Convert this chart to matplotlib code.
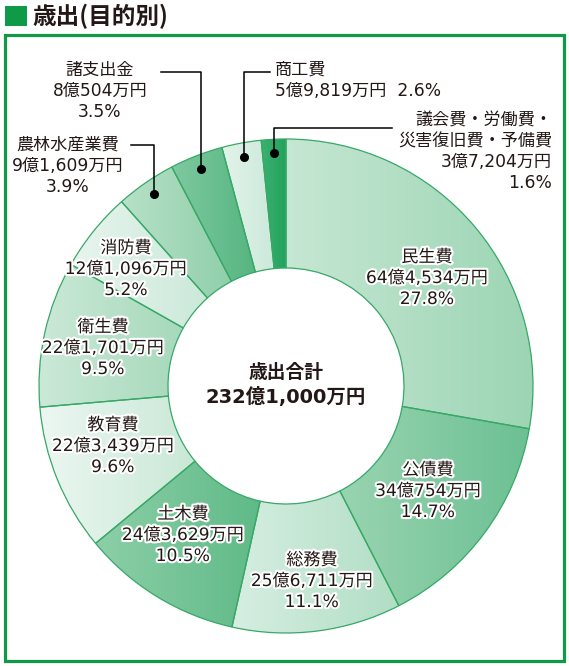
import numpy as np
import matplotlib
matplotlib.use('Agg')
import matplotlib.pyplot as plt
import matplotlib.patheffects as pe
from matplotlib.colors import LinearSegmentedColormap
from matplotlib.patches import Rectangle

plt.rcParams['font.family'] = ['DejaVu Sans', 'Noto Sans CJK JP']

# datos (万円)
categorias = ['民生費', '公債費', '総務費', '土木費', '教育費', '衛生費',
              '消防費', '農林水産業費', '諸支出金', '商工費',
              '議会費・労働費・\n災害復旧費・予備費']
montos = [644534, 340754, 256711, 243629, 223439, 221701,
          121096, 91609, 80504, 59819, 37204]
montos_txt = ['64億4,534万円', '34億754万円', '25億6,711万円', '24億3,629万円',
              '22億3,439万円', '22億1,701万円', '12億1,096万円', '9億1,609万円',
              '8億504万円', '5億9,819万円', '3億7,204万円']
porcentajes = ['27.8%', '14.7%', '11.1%', '10.5%', '9.6%', '9.5%',
               '5.2%', '3.9%', '3.5%', '2.6%', '1.6%']
total_txt = '232億1,000万円'

gradientes = [('#c6e7d3', '#9cd5b4'), ('#99d4b1', '#6cc093'), ('#d6eee1', '#b1dec5'),
              ('#8dcfa8', '#5fba87'), ('#ecf7f1', '#c9e8d6'), ('#cbe9d7', '#a6d9bb'),
              ('#e8f5ee', '#cbe9d9'), ('#b7e1c8', '#90cfaa'), ('#7fc9a0', '#55b580'),
              ('#e3f3ea', '#cbe9da'), ('#3db070', '#22a35d')]

W, H = 569, 666
CX, CY, R, RIN = 286, 386, 247, 118
VERDE = '#109a47'
TXT = '#231815'
FS = 12.3

def Y(py):
    return H - py

fig = plt.figure(figsize=(W / 100, H / 100), dpi=100)
ax = fig.add_axes([0, 0, 1, 1])

wedges, _ = ax.pie(montos, center=(CX, Y(CY)), radius=R, startangle=90, counterclock=False,
                   wedgeprops=dict(width=R - RIN, facecolor='none', edgecolor='#37a867', linewidth=0.9))
grad = np.linspace(0, 1, 256).reshape(1, -1)
for w, (c1, c2) in zip(wedges, gradientes):
    w.set_zorder(3)
    bb = w.get_path().get_extents()
    cmap = LinearSegmentedColormap.from_list('g', [c1, c2])
    im = ax.imshow(grad, cmap=cmap, extent=[bb.x0, bb.x1, bb.y0, bb.y1], aspect='auto',
                   interpolation='bilinear', zorder=2)
    im.set_clip_path(w)

halo = [pe.withStroke(linewidth=3, foreground='white')]

def etiqueta(x, y0, lineas, ha='center', sp=21, halo_on=True):
    for k, t in enumerate(lineas):
        ax.text(x, Y(y0 + k * sp), t, ha=ha, va='center', fontsize=FS, color=TXT, zorder=6,
                path_effects=halo if halo_on else None)

# etiquetas internas
pos_int = [(427, 257), (428, 470), (312, 560), (183, 514), (113, 425), (103, 327), (126, 248)]
for i, (x, y) in enumerate(pos_int):
    etiqueta(x, y, [categorias[i], montos_txt[i], porcentajes[i]])

# etiquetas externas con lineas guia
def punto(i):
    w = wedges[i]
    a = np.deg2rad((w.theta1 + w.theta2) / 2)
    r = 0.943 * R
    return CX + r * np.cos(a), Y(CY) + r * np.sin(a)

def guia(i, y_linea, x_fin):
    px, py = punto(i)
    ax.plot([x_fin, px, px], [Y(y_linea), Y(y_linea), py], color='black', lw=1.1, zorder=5)
    ax.plot(px, py, 'o', color='black', ms=5.5, zorder=6)

etiqueta(68, 145, [categorias[7], montos_txt[7], porcentajes[7]], halo_on=False)
guia(7, 145, 131)
etiqueta(100, 70, [categorias[8], montos_txt[8], porcentajes[8]], halo_on=False)
guia(8, 72, 161)
etiqueta(275, 70, [categorias[9], montos_txt[9] + '  ' + porcentajes[9]], ha='left', halo_on=False)
guia(9, 72, 270)
etiqueta(552, 121, categorias[10].split('\n') + [montos_txt[10], porcentajes[10]], ha='right', sp=20.5, halo_on=False)
guia(10, 128, 392)

# total
ax.text(CX, Y(372), '歳出合計', ha='center', va='center', fontsize=13.5, fontweight='bold', color=TXT, zorder=6)
ax.text(CX, Y(397), total_txt, ha='center', va='center', fontsize=14, fontweight='bold', color=TXT, zorder=6)

# marco y titulo
ax.add_patch(Rectangle((5.5, Y(660.5)), 559, 626, fill=False, edgecolor=VERDE, lw=2.3, zorder=7))
ax.add_patch(Rectangle((5, Y(26)), 22, 20, facecolor=VERDE, edgecolor='none', zorder=7))
ax.text(32, Y(16), '歳出(目的別)', ha='left', va='center', fontsize=17, fontweight='bold', color=TXT,
        family=['Noto Sans CJK JP'])

ax.set_xlim(0, W); ax.set_ylim(0, H); ax.set_aspect('auto'); ax.axis('off')
fig.savefig('out.png', dpi=100, facecolor='white')
